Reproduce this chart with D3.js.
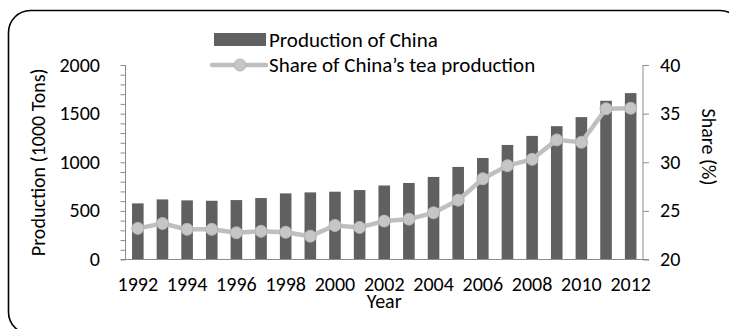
<!DOCTYPE html>
<html><head><meta charset="utf-8">
<script src="https://cdn.jsdelivr.net/npm/d3@7"></script>
<style>
html,body{margin:0;padding:0;background:#fff;}
svg{display:block;}
text{font-family:Carlito, Lato, "Open Sans", sans-serif;fill:#000;}
</style></head>
<body>
<svg id="c" width="729" height="329"></svg>
<script>
const years = [1992,1993,1994,1995,1996,1997,1998,1999,2000,2001,2002,2003,2004,2005,2006,2007,2008,2009,2010,2011,2012];
const production = [577,618,608,604,611,632,680,690,697,714,761,787,849,952,1044,1178,1271,1371,1464,1632,1711];
const share = [23.2,23.7,23.1,23.1,22.75,22.9,22.8,22.4,23.5,23.3,23.95,24.15,24.8,26.1,28.3,29.65,30.3,32.3,32.05,35.5,35.55];
const leftTicks = [0,500,1000,1500,2000];
const rightTicks = [20,25,30,35,40];
const yearLabels = [1992,1994,1996,1998,2000,2002,2004,2006,2008,2010,2012];

const svg = d3.select("#c");
const L = 125.5, R = 643, T = 65, B = 259.5;
const fs = 20;

// border
svg.append("rect").attr("x",8.5).attr("y",10.5).attr("width",733.5).attr("height",323.5)
  .attr("rx",22).attr("fill","none").attr("stroke","#000").attr("stroke-width",1.6);

const x = d3.scaleBand().domain(years).range([L,R]).paddingInner(0.53).paddingOuter(0.265);
const yL = d3.scaleLinear().domain([0,2000]).range([B,T]);
const yR = d3.scaleLinear().domain([20,40]).range([B,T]);

const axisColor = "#8c8c8c";

// bars
svg.append("g").selectAll("rect").data(years).join("rect")
  .attr("x",d=>x(d)).attr("width",x.bandwidth())
  .attr("y",(d,i)=>yL(production[i])).attr("height",(d,i)=>yL(0)-yL(production[i]))
  .attr("fill","#606060");

// left axis
const gl = svg.append("g").attr("transform",`translate(${L},0)`)
  .call(d3.axisLeft(yL).tickValues(d3.range(0,2001,100)).tickSize(5).tickFormat(""));
gl.selectAll("line").attr("stroke",axisColor);
gl.select(".domain").attr("stroke",axisColor).attr("d",`M0,${B}V${T}`);
svg.append("g").selectAll("text").data(leftTicks).join("text")
  .attr("x",100).attr("y",d=>yL(d)).attr("dy","0.33em").attr("text-anchor","end")
  .attr("font-size",fs).text(d=>d);

// right axis
const gr = svg.append("g").attr("transform",`translate(${R},0)`)
  .call(d3.axisRight(yR).tickValues(rightTicks).tickSize(6).tickFormat(""));
gr.selectAll("line").attr("stroke",axisColor);
gr.select(".domain").attr("stroke",axisColor).attr("d",`M0,${B}V${T}`);
svg.append("g").selectAll("text").data(rightTicks).join("text")
  .attr("x",660).attr("y",d=>yR(d)).attr("dy","0.33em").attr("text-anchor","start")
  .attr("font-size",fs).text(d=>d);

// x axis line
svg.append("line").attr("x1",L-5).attr("x2",R+6).attr("y1",B).attr("y2",B)
  .attr("stroke",axisColor).attr("stroke-width",1.2);

// x labels
svg.append("g").selectAll("text").data(yearLabels).join("text")
  .attr("x",d=>x(d)+x.bandwidth()/2).attr("y",291).attr("text-anchor","middle")
  .attr("font-size",fs).text(d=>d);
svg.append("text").attr("x",(L+R)/2).attr("y",307.5).attr("text-anchor","middle")
  .attr("font-size",fs).text("Year");

// axis titles
svg.append("text").attr("transform",`translate(45,${(T+B)/2}) rotate(-90)`)
  .attr("text-anchor","middle").attr("font-size",fs).text("Production (1000 Tons)");
svg.append("text").attr("transform",`translate(702,147) rotate(90)`)
  .attr("text-anchor","middle").attr("font-size",fs).text("Share (%)");

// line
const lineColor = "#bfbfbf";
const line = d3.line().x((d,i)=>x(years[i])+x.bandwidth()/2).y(d=>yR(d));
svg.append("path").datum(share).attr("d",line).attr("fill","none")
  .attr("stroke",lineColor).attr("stroke-width",4.5).attr("stroke-linejoin","round");
svg.append("g").selectAll("circle").data(share).join("circle")
  .attr("cx",(d,i)=>x(years[i])+x.bandwidth()/2).attr("cy",d=>yR(d)).attr("r",6)
  .attr("fill","#c6c6c6").attr("stroke","#b5b5b5").attr("stroke-width",1);

// legend
const lfs = 21;
const lg = svg.append("g");
lg.append("rect").attr("x",214).attr("y",33).attr("width",52).attr("height",13).attr("fill","#606060");
lg.append("text").attr("x",269).attr("y",40).attr("dy","0.33em").attr("font-size",lfs).text("Production of China");
lg.append("line").attr("x1",212).attr("x2",266).attr("y1",65).attr("y2",65)
  .attr("stroke",lineColor).attr("stroke-width",4.5).attr("stroke-linecap","round");
lg.append("circle").attr("cx",240).attr("cy",65).attr("r",6).attr("fill","#c6c6c6").attr("stroke","#b5b5b5");
lg.append("text").attr("x",269).attr("y",65).attr("dy","0.33em").attr("font-size",lfs).text("Share of China\u2019s tea production");
</script>
</body></html>
